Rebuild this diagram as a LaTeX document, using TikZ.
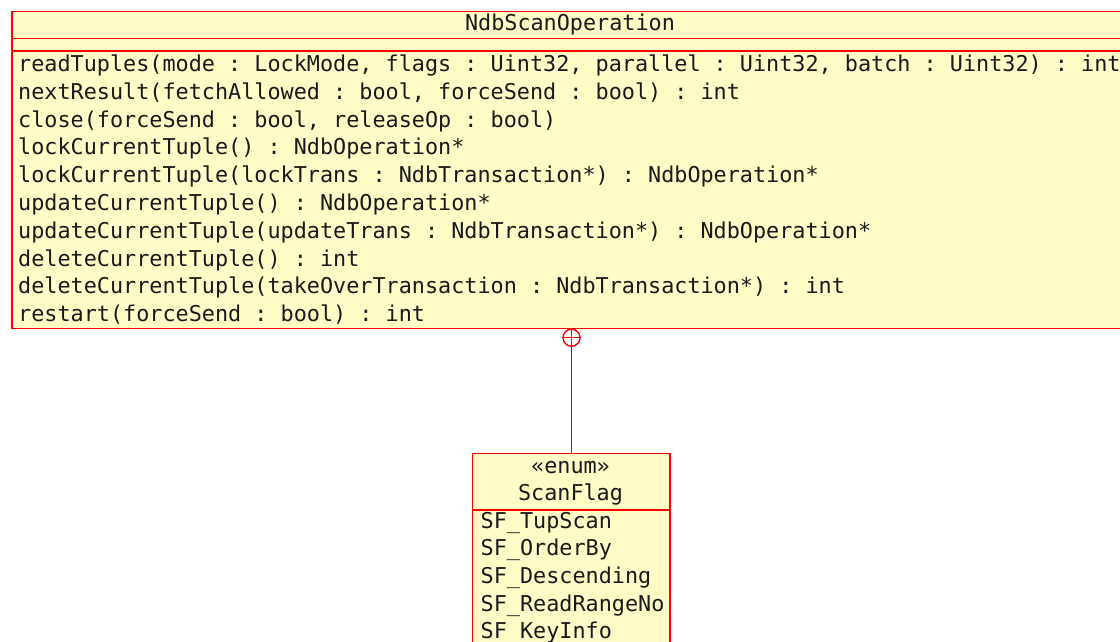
\documentclass[tikz,border=0pt]{standalone}
\usepackage{fontspec}
\setmonofont{DejaVu Sans Mono}
\definecolor{umlyellow}{RGB}{255,252,200}
\definecolor{umlred}{RGB}{255,0,0}
\definecolor{umltext}{RGB}{25,25,25}
\tikzset{
  umlbox/.style={draw=umlred, fill=umlyellow, line width=1.6pt, inner sep=0pt, anchor=north west},
  umlrule/.style={draw=umlred, line width=1.6pt},
  member/.style={anchor=base west, inner sep=0pt, text=umltext,
    font=\ttfamily\fontsize{21.8}{26}\selectfont},
  heading/.style={anchor=base, inner sep=0pt, text=umltext,
    font=\ttfamily\fontsize{21.8}{26}\selectfont},
}
\begin{document}
\begin{tikzpicture}[x=1pt,y=-1pt]
\useasboundingbox (0,0) rectangle (1120,641);
\begin{scope}
\clip (0,0) rectangle (1120,641);

% class NdbScanOperation
\node[umlbox, minimum width=1125pt, minimum height=317pt] (cls) at (11,10.5) {};
\draw[umlrule] (11,38.3) -- (1140,38.3);
\draw[umlrule] (11,51) -- (1140,51);
\node[heading] (clsname) at (570,30) {NdbScanOperation};
\foreach \op [count=\i from 0] in {
  {readTuples(mode : LockMode, flags : Uint32, parallel : Uint32, batch : Uint32) : int},
  {nextResult(fetchAllowed : bool, forceSend : bool) : int},
  {close(forceSend : bool, releaseOp : bool)},
  {lockCurrentTuple() : NdbOperation*},
  {lockCurrentTuple(lockTrans : NdbTransaction*) : NdbOperation*},
  {updateCurrentTuple() : NdbOperation*},
  {updateCurrentTuple(updateTrans : NdbTransaction*) : NdbOperation*},
  {deleteCurrentTuple() : int},
  {deleteCurrentTuple(takeOverTransaction : NdbTransaction*) : int},
  {restart(forceSend : bool) : int}}
  \node[member] (op\i) at (18,71.5+27.8*\i) {\op};

% enumeration ScanFlag
\node[umlbox, minimum width=197.6pt, minimum height=56.3pt] (enumhead) at (471.7,452.7) {};
\node[umlbox, minimum width=197.6pt, minimum height=160pt] (enumbody) at (471.7,509) {};
\node[heading] (stereo) at (570.5,473.3) {«enum»};
\node[heading] (enumname) at (570.5,500.3) {ScanFlag};
\foreach \lit [count=\i from 0] in {SF\_TupScan, SF\_OrderBy, SF\_Descending, SF\_ReadRangeNo, SF\_KeyInfo}
  \node[member] (lit\i) at (480.5,528.2+27.6*\i) {\lit};

% nesting connector with containment mark
\node[circle, draw=umlred, line width=1.4pt, fill=white, minimum size=17pt, inner sep=0pt] (nest) at (571.5,337.7) {};
\draw[umlrule, line width=1.4pt] (nest.west) -- (nest.east);
\draw[umlrule, line width=1.4pt] (nest.north) -- (nest.south);
\draw[umlrule, line width=1.6pt] (nest.south) -- (nest.south |- enumhead.north);
\end{scope}
\end{tikzpicture}
\end{document}
